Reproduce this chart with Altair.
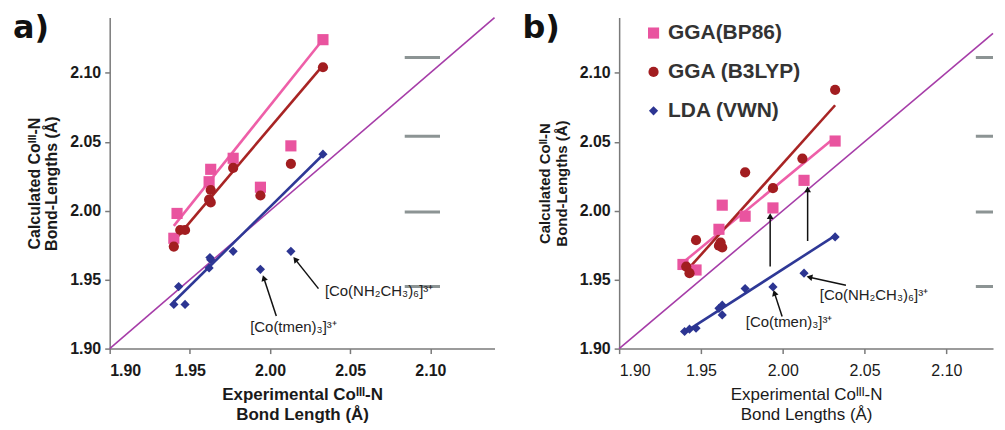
import altair as alt
import pandas as pd

SERIES = ["GGA(BP86)", "GGA (B3LYP)", "LDA (VWN)"]
COLORS = ["#E9549F", "#A21D20", "#2C3592"]
LINE_COLORS = ["#EE5FA8", "#A82424", "#2E3896"]
SHAPES = ["square", "circle", "diamond"]
SIZES = [125, 85, 135]
TICKS = [1.90, 1.95, 2.00, 2.05, 2.10]
OUTLIER_X = [1.994, 2.013]

# ---- panel a ----
a_bp86_x = [1.940, 1.942, 1.962, 1.963, 1.977, 1.994, 2.013, 2.033]
a_bp86_y = [1.980, 1.998, 2.021, 2.030, 2.038, 2.017, 2.047, 2.124]
a_b3lyp_x = [1.940, 1.944, 1.947, 1.962, 1.963, 1.963, 1.977, 1.994, 2.013, 2.033]
a_b3lyp_y = [1.974, 1.986, 1.986, 2.008, 2.006, 2.015, 2.031, 2.011, 2.034, 2.104]
a_vwn_x = [1.940, 1.943, 1.947, 1.962, 1.963, 1.9625, 1.977, 1.994, 2.013, 2.033]
a_vwn_y = [1.932, 1.945, 1.932, 1.9585, 1.9645, 1.966, 1.9705, 1.9575, 1.9705, 2.041]
a_fit_outliers = [False, False, False]

# ---- panel b ----
b_bp86_x = [1.939, 1.947, 1.961, 1.963, 1.977, 1.994, 2.013, 2.032]
b_bp86_y = [1.961, 1.957, 1.9865, 2.004, 1.996, 2.002, 2.022, 2.0505]
b_b3lyp_x = [1.941, 1.943, 1.947, 1.961, 1.962, 1.963, 1.977, 1.994, 2.012, 2.032]
b_b3lyp_y = [1.9595, 1.9547, 1.9786, 1.9746, 1.9769, 1.9733, 2.0278, 2.0163, 2.0378, 2.0876]
b_vwn_x = [1.940, 1.943, 1.947, 1.961, 1.963, 1.963, 1.977, 1.994, 2.013, 2.032]
b_vwn_y = [1.9124, 1.9141, 1.9148, 1.9292, 1.9315, 1.9244, 1.9435, 1.9447, 1.9547, 1.981]
b_fit_outliers = [False, True, False]

# grey dash remnants on the right of each panel
dash_y = [2.111, 2.054, 1.999, 1.945]
a_dash_x = [2.084, 2.106]
b_dash_x = [2.118, 2.1285]

# annotations
a_note_text = ["[Co(tmen)₃]³⁺", "[Co(NH₂CH₃)₆]³⁺"]
a_note_x = [1.9876, 2.0342]
a_note_y = [1.916, 1.942]
a_arrow_x = [2.0039, 2.0302]
a_arrow_y = [1.9237, 1.9435]
a_arrow_x2 = [1.9961, 2.0157]
a_arrow_y2 = [1.9512, 1.9647]
a_arrow_angle = [342, 321]

b_note_text = ["[Co(tmen)₃]³⁺", "[Co(NH₂CH₃)₆]³⁺"]
b_note_x = [1.9774, 2.0226]
b_note_y = [1.9194, 1.9387]
b_arrow_x = [1.9996, 2.0386, 1.9923, 2.0152]
b_arrow_y = [1.9232, 1.9459, 1.9595, 1.978]
b_arrow_x2 = [1.9949, 2.0163, 1.9923, 2.0152]
b_arrow_y2 = [1.9404, 1.9518, 1.996, 2.0154]
b_arrow_angle = [342, 283, 0, 0]


def make_df(xs_list, ys_list, fit_outliers):
    rows = []
    for s, xs, ys, keep in zip(SERIES, xs_list, ys_list, fit_outliers):
        for x, y in zip(xs, ys):
            is_out = any(abs(x - o) < 0.0025 for o in OUTLIER_X)
            rows.append({"x": x, "y": y, "series": s, "fit": bool(keep or not is_out)})
    return pd.DataFrame(rows)


def panel(df, xmax, width, letter, bold_x, xtitle, ytitle, ytitle_size,
          dash_x, notes, arrows, show_legend):
    xs = alt.Scale(domain=[1.90, xmax], nice=False, zero=False)
    ys = alt.Scale(domain=[1.90, 2.14], nice=False, zero=False)
    xaxis = alt.Axis(
        values=TICKS, format=".2f", title=xtitle, grid=False,
        labelFontSize=16, labelFontWeight="bold" if bold_x else "normal",
        titleFontSize=17, titleFontWeight="bold" if bold_x else "normal",
        titleLineHeight=20, tickSize=5, labelPadding=9, titlePadding=8)
    yaxis = alt.Axis(
        values=TICKS, format=".2f", title=ytitle, grid=False,
        labelFontSize=16, labelFontWeight="bold",
        titleFontSize=ytitle_size, titleFontWeight="bold",
        titleLineHeight=17, tickSize=5, labelPadding=4, titlePadding=10)
    X = alt.X("x:Q", scale=xs, axis=xaxis)
    Y = alt.Y("y:Q", scale=ys, axis=yaxis)

    diag = alt.Chart(pd.DataFrame({"x": [1.90, xmax], "y": [1.90, xmax]})).mark_line(
        color="#A63DA8", strokeWidth=1.6).encode(x=X, y=Y)

    dashes = alt.Chart(pd.DataFrame({"x": [dash_x[0]] * len(dash_y),
                                     "x2": [dash_x[1]] * len(dash_y),
                                     "y": dash_y})).mark_rule(
        color="#8C9494", strokeWidth=3, clip=True).encode(x=X, x2="x2:Q", y=Y)

    reg_layers = []
    for s, c in zip(SERIES, LINE_COLORS):
        reg_layers.append(
            alt.Chart(df).transform_filter("datum.fit").transform_filter(
                alt.datum.series == s).transform_regression("x", "y").mark_line(
                strokeWidth=2.6, color=c).encode(x=X, y=Y))

    if show_legend:
        leg = alt.Legend(title=None, orient="none", legendX=24, legendY=5,
                         labelFontSize=21, labelFontWeight="bold", labelColor="#333333",
                         symbolSize=130, rowPadding=17, labelOffset=4, padding=0)
    else:
        leg = None
    color = alt.Color("series:N", scale=alt.Scale(domain=SERIES, range=COLORS), legend=leg)
    shape = alt.Shape("series:N", scale=alt.Scale(domain=SERIES, range=SHAPES), legend=leg)
    size = alt.Size("series:N", scale=alt.Scale(domain=SERIES, range=SIZES), legend=leg)
    pts = alt.Chart(df).mark_point(filled=True, opacity=1).encode(
        x=X, y=Y, color=color, shape=shape, size=size)

    ax, ay, ax2, ay2, ang = arrows
    adf = pd.DataFrame({"x": ax, "y": ay, "x2": ax2, "y2": ay2})
    arrow_lines = alt.Chart(adf).mark_rule(color="#111111", strokeWidth=1.5).encode(
        x=X, y=Y, x2="x2:Q", y2="y2:Q")
    heads = []
    for i, a in enumerate(ang):
        heads.append(
            alt.Chart(adf.iloc[[i]]).mark_point(
                shape="triangle-up", filled=True, opacity=1, size=45,
                color="#111111", angle=a).encode(
                x=alt.X("x2:Q", scale=xs, axis=xaxis),
                y=alt.Y("y2:Q", scale=ys, axis=yaxis)))

    nt, nx, ny = notes
    texts = alt.Chart(pd.DataFrame({"x": nx, "y": ny, "t": nt})).mark_text(
        align="left", baseline="middle", fontSize=15, color="#222222").encode(
        x=X, y=Y, text="t:N")

    lab = alt.Chart(pd.DataFrame({"t": [letter]})).mark_text(
        align="left", baseline="alphabetic", fontSize=32, fontWeight="bold",
        font="DejaVu Sans", color="#111111").encode(
        x=alt.value(-97), y=alt.value(20), text="t:N")

    return alt.layer(diag, dashes, *reg_layers, pts, arrow_lines, *heads, texts, lab).properties(
        width=width, height=332)


df_a = make_df([a_bp86_x, a_b3lyp_x, a_vwn_x], [a_bp86_y, a_b3lyp_y, a_vwn_y], a_fit_outliers)
df_b = make_df([b_bp86_x, b_b3lyp_x, b_vwn_x], [b_bp86_y, b_b3lyp_y, b_vwn_y], b_fit_outliers)

pa = panel(df_a, 2.14, 386, "a)", True,
           ["Experimental Coᴵᴵᴵ-N", "Bond Length (Å)"],
           ["Calculated Coᴵᴵᴵ-N", "Bond-Lengths (Å)"], 16,
           a_dash_x, (a_note_text, a_note_x, a_note_y),
           (a_arrow_x, a_arrow_y, a_arrow_x2, a_arrow_y2, a_arrow_angle), False)
pb = panel(df_b, 2.1285, 375, "b)", False,
           ["Experimental Coᴵᴵᴵ-N", "Bond Lengths (Å)"],
           ["Calculated Coᴵᴵ-N", "Bond-Lengths (Å)"], 15,
           b_dash_x, (b_note_text, b_note_x, b_note_y),
           (b_arrow_x, b_arrow_y, b_arrow_x2, b_arrow_y2, b_arrow_angle), True)

chart = alt.hconcat(pa, pb, spacing=24).resolve_scale(
    x="independent", y="independent", color="independent",
    shape="independent", size="independent").resolve_legend(
    color="independent", shape="independent", size="independent").properties(
    padding={"left": 5, "top": 3, "right": 0, "bottom": 0}).configure(
    font="Liberation Sans").configure_view(stroke=None).configure_axis(
    domainColor="#7a7a7a", domainWidth=1.5, tickColor="#7a7a7a", tickWidth=1.5,
    labelColor="#1a1a1a", titleColor="#1a1a1a")

chart.save("out.html", embed_options={"renderer": "svg", "actions": False})
